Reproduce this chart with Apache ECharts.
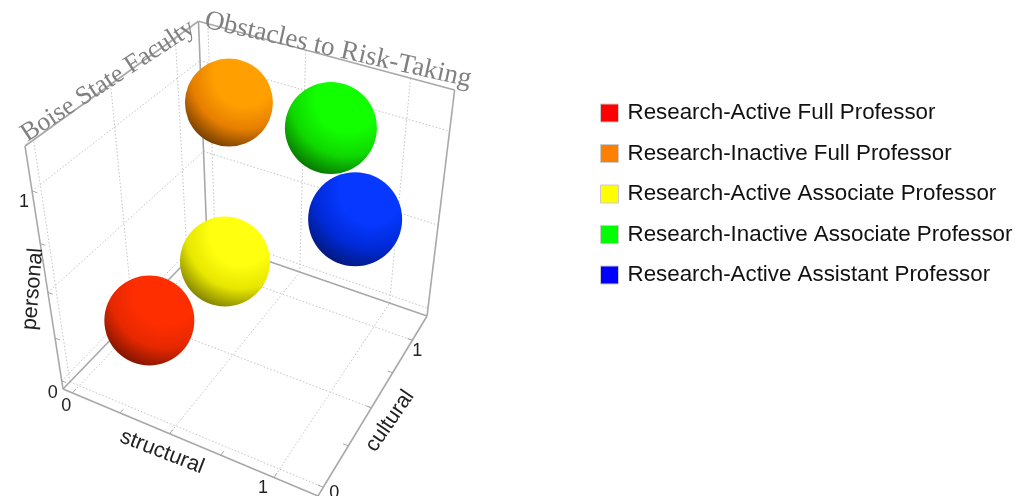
<!DOCTYPE html>
<html>
<head>
<meta charset="utf-8">
<style>html,body{margin:0;padding:0;background:#fff}#c{width:1015px;height:496px}</style>
<script src="https://cdn.jsdelivr.net/npm/echarts@6/dist/echarts.min.js"></script>
</head>
<body>
<div id="c"></div>
<script>
// ---- data ----
const names = ['Research-Active Full Professor','Research-Inactive Full Professor','Research-Active Associate Professor','Research-Inactive Associate Professor','Research-Active Assistant Professor'];
const structural = [0.27, 0.27, 0.37, 0.75, 0.95];
const cultural   = [0.19, 0.91, 0.67, 0.945, 0.79];
const personal   = [0.30, 1.01, 0.33, 1.01, 0.70];
const gridTicks = [0, 0.5, 1];
const minorTicks = [0, 0.25, 0.5, 0.75, 1];
const tickLabels = ['0', '1'];
const titleParts = ['Boise State Faculty', 'Obstacles to Risk-Taking'];
const axisNames = ['structural', 'cultural', 'personal'];

// ---- styles ----
const legendColors = ['#ff0000','#ff7f00','#ffff00','#00ff00','#0000ff'];
const sphereColors = [
  {lit:'#ff2e00', mid:'#e62800', dark:'#5a0d00'},
  {lit:'#ffa000', mid:'#e67e00', dark:'#4a2600'},
  {lit:'#ffff10', mid:'#e6e600', dark:'#5a5a00'},
  {lit:'#12ff00', mid:'#0fd800', dark:'#054e00'},
  {lit:'#0638ff', mid:'#002ad8', dark:'#00125a'}
];
const radii = [45, 44, 45, 46, 47];
const MIN = -0.05, MAX = 1.2;

// ---- projection of the 3D box onto the page ----
const A=[63,389], B=[318,496], D=[207,240], T=[25,146];
const wu=0.913, wv=1.202, wt=0.84;
function project(s,c,p){
  const u=(s-MIN)/(MAX-MIN), v=(c-MIN)/(MAX-MIN), t=(p-MIN)/(MAX-MIN);
  const den=1+(wu-1)*u+(wv-1)*v+(wt-1)*t;
  return [0,1].map(i=>(A[i]+u*(wu*B[i]-A[i])+v*(wv*D[i]-A[i])+t*(wt*T[i]-A[i]))/den);
}
const edges=[
  [MIN,MIN,MIN,MAX,MIN,MIN],[MAX,MIN,MIN,MAX,MAX,MIN],[MAX,MAX,MIN,MIN,MAX,MIN],[MIN,MAX,MIN,MIN,MIN,MIN],
  [MIN,MIN,MIN,MIN,MIN,MAX],[MAX,MAX,MIN,MAX,MAX,MAX],[MIN,MAX,MIN,MIN,MAX,MAX],
  [MIN,MIN,MAX,MIN,MAX,MAX],[MIN,MAX,MAX,MAX,MAX,MAX]
];
const gridLines=[];
gridTicks.forEach(k=>{
  gridLines.push([k,MIN,MIN,k,MAX,MIN],[MIN,k,MIN,MAX,k,MIN]);      // floor
  gridLines.push([MIN,k,MIN,MIN,k,MAX],[MIN,MIN,k,MIN,MAX,k]);      // left wall
  gridLines.push([k,MAX,MIN,k,MAX,MAX],[MIN,MAX,k,MAX,MAX,k]);      // back wall
});
const L=0.025, tickMarks=[];
minorTicks.forEach(k=>{
  tickMarks.push([k,MIN,MIN,k,MIN+L,MIN],[MAX,k,MIN,MAX-L,k,MIN],[MIN,MIN,k,MIN+L,MIN,k]);
});

function segmentSeries(rows,style,z){
  return {type:'custom',silent:true,z:z,data:rows,clip:false,
    renderItem(params,api){
      const a=api.coord(project(api.value(0),api.value(1),api.value(2)));
      const b=api.coord(project(api.value(3),api.value(4),api.value(5)));
      return {type:'line',shape:{x1:a[0],y1:a[1],x2:b[0],y2:b[1]},style:style};
    }};
}
function sphereSeries(i){
  const col=sphereColors[i];
  return {type:'custom',name:names[i],silent:true,z:10+[4,0,2,1,3][i],clip:false,
    itemStyle:{color:legendColors[i]},
    data:[[structural[i],cultural[i],personal[i]]],
    renderItem(params,api){
      const q=api.coord(project(api.value(0),api.value(1),api.value(2)));
      return {type:'circle',shape:{cx:q[0],cy:q[1],r:radii[i]},
        style:{fill:new echarts.graphic.RadialGradient(0.68,0.2,0.95,[
          {offset:0,color:col.lit},{offset:0.36,color:col.lit},{offset:0.64,color:col.mid},{offset:1,color:col.dark}])}};
    }};
}
function text(t,x,y,font,fill,rot){
  return {type:'text',x:x,y:y,rotation:rot||0,z:30,silent:true,
    style:{text:t,font:font,fill:fill,align:'center',textAlign:'center',verticalAlign:'middle',textVerticalAlign:'middle'}};
}
const tickFont='18px "Liberation Sans", Arial, sans-serif', nameFont='21.5px "Liberation Sans", Arial, sans-serif';
const serif='27px "Liberation Serif", serif', serifSmall='26px "Liberation Serif", serif';
function tick(t,pos,dx,dy){return text(t,pos[0]+dx,pos[1]+dy,tickFont,'#222');}
const graphics=[
  text(titleParts[0],108,81,serifSmall,'#808080',0.58),
  text(titleParts[1],338,50,serif,'#808080',-0.22),
  text(axisNames[0],162,452,nameFont,'#222',-0.37),
  text(axisNames[1],390,421,nameFont,'#222',0.97),
  text(axisNames[2],33,289,nameFont,'#222',1.49),
  tick(tickLabels[0],project(0,MIN,MIN),-6,13),
  tick(tickLabels[1],project(1,MIN,MIN),-11,11),
  tick(tickLabels[0],project(MAX,0,MIN),11,6),
  tick(tickLabels[1],project(MAX,1,MIN),5,11),
  tick(tickLabels[0],project(MIN,MIN,0),-9,12),
  tick(tickLabels[1],project(MIN,MIN,1),-8,11)
];

const chart=echarts.init(document.getElementById('c'),null,{renderer:'canvas'});
chart.setOption({
  animation:false,
  backgroundColor:'#fff',
  grid:{left:0,right:0,top:0,bottom:0},
  xAxis:{type:'value',min:0,max:1015,show:false},
  yAxis:{type:'value',min:0,max:496,inverse:true,show:false},
  legend:{
    orient:'vertical',left:600,top:102,padding:0,itemWidth:18,itemHeight:18,itemGap:18.5,icon:'rect',
    selectedMode:false,
    textStyle:{fontFamily:'"Liberation Sans", Arial, sans-serif',fontSize:22.35,lineHeight:18,color:'#111',padding:[0,0,0,4]},
    data:names.map((n,i)=>({name:n,icon:'rect',itemStyle:{color:legendColors[i],borderColor:'#ccc',borderWidth:1}}))
  },
  graphic:graphics,
  series:[
    segmentSeries(gridLines,{stroke:'#c4c4c4',lineWidth:1,lineDash:[1.5,2],fill:null},1),
    segmentSeries(edges,{stroke:'#a8a8a8',lineWidth:1.6,fill:null},2),
    segmentSeries(tickMarks,{stroke:'#a8a8a8',lineWidth:1,fill:null},2)
  ].concat(names.map((n,i)=>sphereSeries(i)))
});
</script>
</body>
</html>
